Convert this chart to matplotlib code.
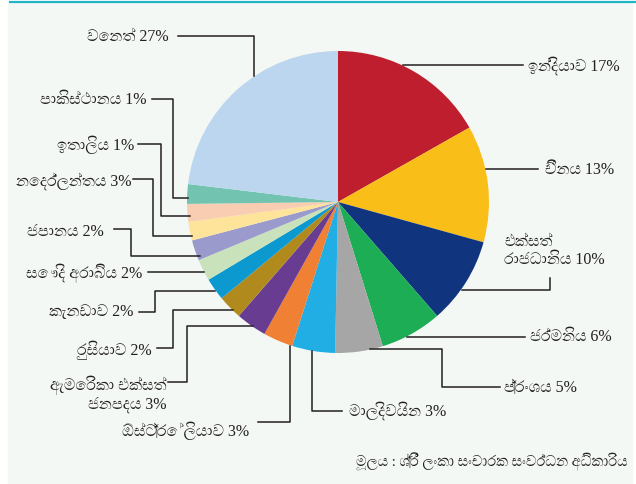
import matplotlib
matplotlib.use("Agg")
import matplotlib.pyplot as plt
from matplotlib import font_manager as fm
from matplotlib.ft2font import FT2Font

# tourist arrivals by country, clockwise from the top
countries = ["ඉන්දියාව", "චීනය", "එක්සත්\nරාජධානිය", "ජර්මනිය", "ප්‍රංශය",
             "මාලදිවයින", "ඕස්ට්‍රේලියාව", "ඇමෙරිකා එක්සත්\nජනපදය",
             "රුසියාව", "කැනඩාව", "සෞදි අරාබිය", "ජපානය", "නෙදර්ලන්තය",
             "ඉතාලිය", "පාකිස්ථානය", "වෙනත්"]
# percentages as printed in the labels
shares = [17, 13, 10, 6, 5, 3, 3, 3, 2, 2, 2, 2, 3, 1, 1, 27]
# wedge sizes as drawn in the original graphic (%)
wedge_sizes = [16.8, 12.5, 9.3, 6.6, 5.1, 4.6, 3.2, 3.3, 2.6, 2.4, 2.3, 2.2,
               2.0, 1.9, 2.1, 23.1]
colors = ["#BE1E2D", "#F9BE18", "#10357E", "#1DAE55", "#A6A6A6", "#21AEE5",
          "#F08033", "#673C91", "#B18A1E", "#0B99CF", "#CAE2BB", "#9A9ACD",
          "#FDE49A", "#F9CDB1", "#72C4B0", "#BBD6EE"]
source = "මූලය : ශ්‍රී ලංකා සංචාරක සංවර්ධන අධිකාරිය"

# label layout in pixel coords: text anchor, alignment, leader polyline
txt_pos = [(528, 66, "left"), (545, 170, "left"), (504, 251, "left"),
           (530, 337, "left"), (504, 388, "left"), (349, 411, "left"),
           (249, 431, "right"), (166, 394, "right"), (152, 350, "right"),
           (133, 312, "right"), (142, 273, "right"), (104, 232, "right"),
           (131, 181, "right"), (134, 145, "right"), (146, 100, "right"),
           (169, 37, "right")]
leaders = [[(403, 66), (523, 66)],
           [(486, 170), (538, 170)],
           [(462, 291), (550, 291), (550, 279)],
           [(407, 338), (525, 338)],
           [(370, 350), (442, 350), (442, 388), (500, 388)],
           [(312, 352), (312, 412), (342, 412)],
           [(290, 347), (290, 423), (258, 423)],
           [(253, 327), (187, 327), (187, 383), (168, 383)],
           [(233, 311), (173, 311), (173, 349), (157, 349)],
           [(215, 292), (155, 292), (155, 313), (139, 313)],
           [(204, 273), (148, 273)],
           [(200, 257), (131, 257), (131, 230), (114, 230)],
           [(192, 237), (153, 237), (153, 180), (133, 180)],
           [(190, 217), (161, 217), (161, 145), (138, 145)],
           [(188, 199), (173, 199), (173, 100), (152, 100)],
           [(254, 77), (254, 37), (178, 37)]]


def sinhala_fonts():
    names = []
    for f in fm.fontManager.ttflist:
        try:
            if 0x0DC3 in FT2Font(f.fname).get_charmap():
                if f.name not in names:
                    names.append(f.name)
        except Exception:
            pass
    # prefer serif faces, avoid monospaced ones
    names.sort(key=lambda n: (0 if "Serif" in n else 1 if "Mono" not in n else 2))
    return names


def main():
    sf = sinhala_fonts()
    plt.rcParams["font.family"] = ["Liberation Serif"] + sf[:1] + ["DejaVu Sans"]

    W, H = 636, 485
    fig = plt.figure(figsize=(W / 100, H / 100), dpi=100)
    fig.patch.set_facecolor("white")
    ax = fig.add_axes([0, 0, 1, 1])

    # background panel and top rule
    ax.add_patch(plt.Rectangle((8, 4), 624, H, color="#F4F8F5", zorder=0))
    ax.plot([10, W], [3, 3], color="#1FB5C4", lw=1.6, zorder=1)

    ax.pie(wedge_sizes, colors=colors, startangle=-90, counterclock=True,
           center=(338, 203), radius=151,
           wedgeprops=dict(linewidth=0, zorder=2))

    for name, val, (x, y, ha), path in zip(countries, shares, txt_pos, leaders):
        ax.text(x, y, "%s %d%%" % (name, val), ha=ha, va="center",
                multialignment=ha, fontsize=11.5, color="#231F20",
                linespacing=1.1, zorder=4)
        xs, ys = zip(*path)
        ax.plot(xs, ys, color="#231F20", lw=1.1, zorder=3)

    ax.text(628, 462, source, ha="right", va="center", fontsize=10.5,
            color="#231F20")

    ax.set_xlim(0, W)
    ax.set_ylim(H, 0)
    ax.set_aspect("equal")
    ax.axis("off")
    fig.savefig("out.png", dpi=100, facecolor="white")


if __name__ == "__main__":
    main()
